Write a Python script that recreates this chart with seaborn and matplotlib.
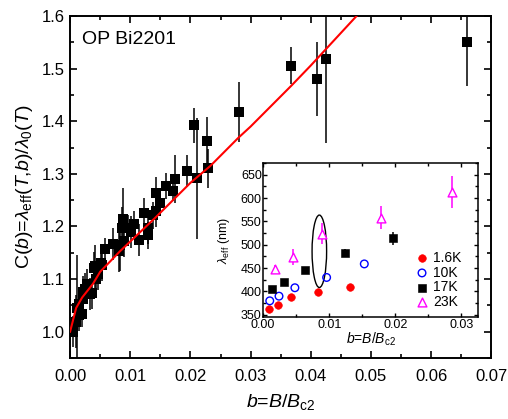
import matplotlib
matplotlib.use("Agg")
import matplotlib.pyplot as plt
from matplotlib.patches import Ellipse
from matplotlib.ticker import MultipleLocator
import seaborn as sns
import pandas as pd

# main panel: C(b) data
b_main = [0.0005, 0.0010, 0.0011, 0.0015, 0.0020, 0.0015, 0.0021, 0.0022, 0.0025, 0.0028,
          0.0033, 0.0036, 0.0040, 0.0041, 0.0043, 0.0047, 0.0051, 0.0053, 0.0058, 0.0071,
          0.0082, 0.0083, 0.0086, 0.0088, 0.0090, 0.0097, 0.0102, 0.0107, 0.0115, 0.0122,
          0.0130, 0.0130, 0.0137, 0.0142, 0.0143, 0.0150, 0.0160, 0.0171, 0.0175, 0.0194,
          0.0206, 0.0211, 0.0228, 0.0230, 0.0280, 0.0368, 0.0411, 0.0425, 0.0659]
c_main = [1.000, 1.019, 1.045, 1.032, 1.034, 1.053, 1.076, 1.063, 1.082, 1.090,
          1.072, 1.073, 1.121, 1.124, 1.101, 1.109, 1.130, 1.127, 1.158, 1.167,
          1.154, 1.165, 1.198, 1.214, 1.172, 1.197, 1.190, 1.204, 1.174, 1.225,
          1.197, 1.183, 1.221, 1.229, 1.264, 1.245, 1.277, 1.268, 1.290, 1.306,
          1.392, 1.292, 1.363, 1.311, 1.417, 1.506, 1.481, 1.519, 1.550]
c_err = [0.03, 0.05, 0.10, 0.03, 0.025, 0.03, 0.03, 0.025, 0.03, 0.03,
         0.03, 0.03, 0.03, 0.04, 0.03, 0.03, 0.025, 0.03, 0.02, 0.03,
         0.04, 0.05, 0.04, 0.06, 0.03, 0.025, 0.03, 0.025, 0.03, 0.03,
         0.03, 0.025, 0.025, 0.03, 0.03, 0.025, 0.025, 0.02, 0.045, 0.03,
         0.033, 0.115, 0.045, 0.037, 0.057, 0.035, 0.07, 0.16, 0.082]

# fit curve
fit_b = [0.0, 0.001, 0.002, 0.0038, 0.005, 0.0083, 0.0141, 0.020, 0.0233, 0.028,
         0.030, 0.0368, 0.040, 0.0476, 0.050]
fit_c = [1.0, 1.045, 1.065, 1.091, 1.114, 1.153, 1.216, 1.283, 1.315, 1.369,
         1.390, 1.468, 1.506, 1.600, 1.630]

# inset: lambda_eff vs b at different temperatures
b_16 = [0.0009, 0.0022, 0.0042, 0.0083, 0.0131]
lam_16 = [362, 371, 389, 398, 410]
b_10 = [0.0010, 0.0024, 0.0048, 0.0096, 0.0153]
lam_10 = [380, 390, 408, 430, 459]
b_17 = [0.0013, 0.0032, 0.0063, 0.0124, 0.0197]
lam_17 = [405, 421, 446, 482, 514]
err_17 = [4, 4, 6, 9, 14]
b_23 = [0.0018, 0.0045, 0.0089, 0.0178, 0.0285]
lam_23 = [448, 474, 524, 558, 613]
err_23 = [8, 17, 22, 25, 35]

plt.rcParams['font.family'] = ['Liberation Sans', 'DejaVu Sans']
plt.rcParams['mathtext.fontset'] = 'custom'
plt.rcParams['mathtext.rm'] = 'Liberation Sans'
plt.rcParams['mathtext.it'] = 'Liberation Sans:italic'
plt.rcParams['xtick.direction'] = 'in'
plt.rcParams['ytick.direction'] = 'in'

fig = plt.figure(figsize=(5.08, 4.19), dpi=100)
ax = fig.add_axes([0.138, 0.1456, 0.829, 0.816])

main = pd.DataFrame({"b": b_main, "C": c_main})
ax.errorbar(b_main, c_main, yerr=c_err, fmt='none', ecolor='black', elinewidth=1.1, zorder=2)
sns.scatterplot(data=main, x="b", y="C", marker='s', color='black', s=45,
                edgecolor='black', linewidth=0, ax=ax, zorder=3)
fit = pd.DataFrame({"b": fit_b, "C": fit_c})
sns.lineplot(data=fit, x="b", y="C", color='red', lw=1.5, sort=False, estimator=None,
             ax=ax, zorder=4)

ax.set_xlim(0, 0.07)
ax.set_ylim(0.95, 1.6)
ax.xaxis.set_major_locator(MultipleLocator(0.01))
ax.xaxis.set_minor_locator(MultipleLocator(0.005))
ax.yaxis.set_major_locator(MultipleLocator(0.1))
ax.yaxis.set_minor_locator(MultipleLocator(0.05))
ax.xaxis.set_major_formatter(matplotlib.ticker.FormatStrFormatter('%.2f'))
ax.yaxis.set_major_formatter(matplotlib.ticker.FormatStrFormatter('%.1f'))
ax.tick_params(which='both', top=True, right=True, labelsize=12)
ax.tick_params(axis='x', which='major', pad=8)
ax.tick_params(which='major', length=5, width=1.2)
ax.tick_params(which='minor', length=3, width=1.2)
for sp in ax.spines.values():
    sp.set_linewidth(1.4)
ax.set_xlabel(r'$b$=$B$/$B_{\rm c2}$', fontsize=14, labelpad=6)
ax.set_ylabel(r'C($b$)=$\lambda_{\rm eff}$($T$,$b$)/$\lambda_0$($T$)', fontsize=14, labelpad=5)
ax.text(0.028, 0.955, 'OP Bi2201', transform=ax.transAxes, fontsize=14, va='top')

# inset
ins = fig.add_axes([0.518, 0.243, 0.423, 0.368])
ins.errorbar(b_17, lam_17, yerr=err_17, fmt='none', ecolor='black', elinewidth=1.1)
ins.errorbar(b_23, lam_23, yerr=err_23, fmt='none', ecolor='magenta', elinewidth=1.1)
sns.scatterplot(x=b_16, y=lam_16, marker='o', color='red', edgecolor='red', s=30,
                label='1.6K', ax=ins, zorder=3)
sns.scatterplot(x=b_10, y=lam_10, marker='o', facecolor='none', edgecolor='blue',
                linewidth=1, s=30, label='10K', ax=ins, zorder=3)
sns.scatterplot(x=b_17, y=lam_17, marker='s', color='black', edgecolor='black', s=28,
                label='17K', ax=ins, zorder=3)
sns.scatterplot(x=b_23, y=lam_23, marker='^', facecolor='white', edgecolor='magenta',
                linewidth=1, s=40, label='23K', ax=ins, zorder=3)
ins.add_patch(Ellipse((0.0085, 486), 0.0022, 155, fill=False, edgecolor='black', lw=1))
ins.set_xlim(0, 0.0325)
ins.set_ylim(345, 675)
ins.xaxis.set_major_locator(MultipleLocator(0.01))
ins.xaxis.set_minor_locator(MultipleLocator(0.005))
ins.yaxis.set_major_locator(MultipleLocator(50))
ins.yaxis.set_minor_locator(MultipleLocator(25))
ins.xaxis.set_major_formatter(matplotlib.ticker.FormatStrFormatter('%.2f'))
ins.tick_params(which='both', top=True, right=True, labelsize=9, pad=1)
ins.tick_params(which='major', length=3, width=1)
ins.tick_params(which='minor', length=2, width=1)
for sp in ins.spines.values():
    sp.set_linewidth(1.1)
ins.set_xlabel(r'$b$=$B$/$B_{\rm c2}$', fontsize=10, labelpad=0)
ins.set_ylabel(r'$\lambda_{\rm eff}$ (nm)', fontsize=9, labelpad=6)
ins.legend(loc='upper left', bbox_to_anchor=(0.707, 0.43), frameon=False, fontsize=10,
           handlelength=1.0, handletextpad=0.3, borderpad=0, borderaxespad=0,
           labelspacing=0.05)

fig.savefig('out.png', dpi=100)
